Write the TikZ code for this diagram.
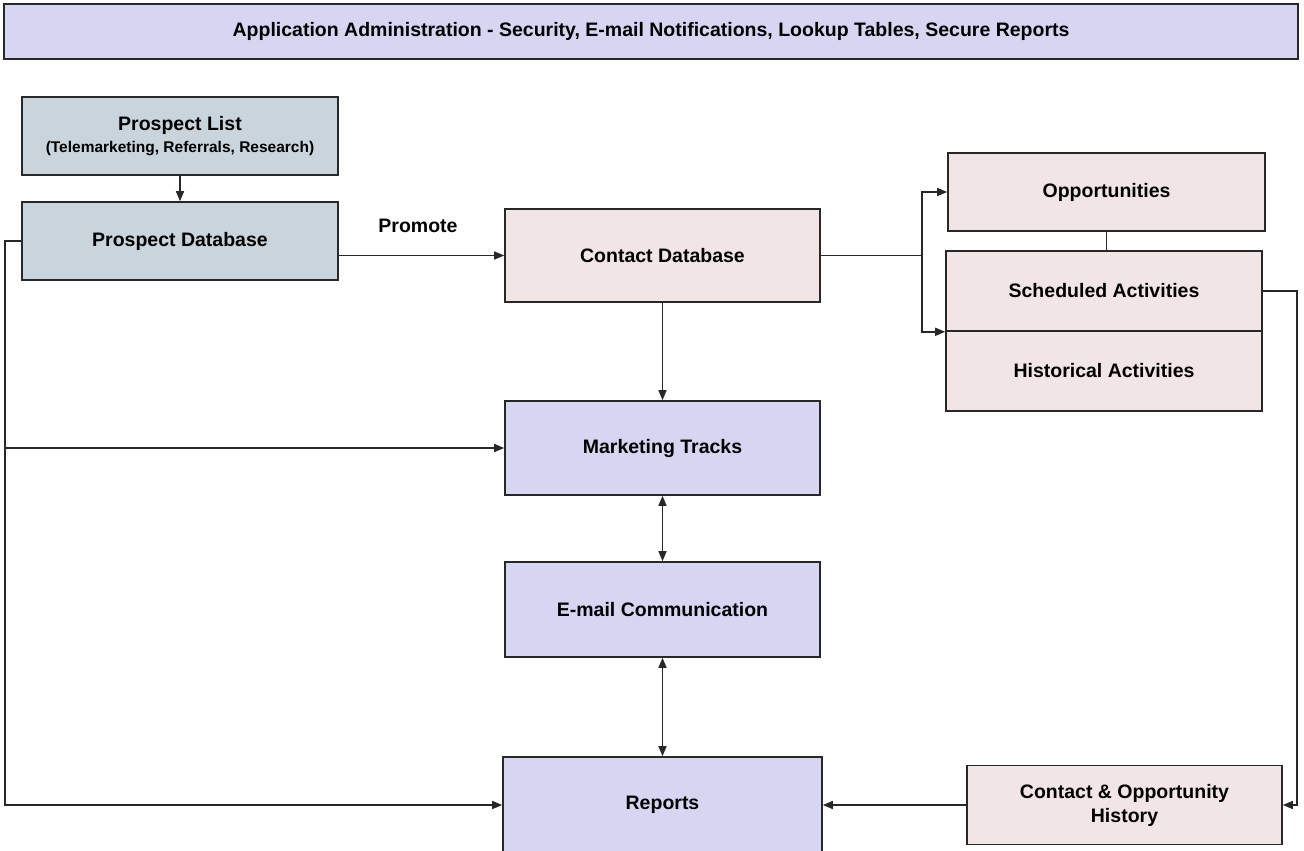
\documentclass[tikz,border=0pt]{standalone}
\usepackage{fontspec}
\setmainfont{Liberation Sans}
\usetikzlibrary{arrows.meta}

\definecolor{adminfill}{RGB}{214,214,242}
\definecolor{prospfill}{RGB}{202,212,220}
\definecolor{contfill}{RGB}{241,229,229}
\definecolor{boxline}{RGB}{40,40,40}

\tikzset{
  box/.style={draw=boxline, line width=1.6pt, inner sep=0pt, align=center,
    minimum width=316pt, minimum height=78pt,
    font=\bfseries\fontsize{19.5}{24}\selectfont},
  link/.style={draw=boxline, line width=1.5pt},
  arr/.style={link, -{Triangle[length=10pt,width=8pt]}},
  darr/.style={link, {Triangle[length=10pt,width=8pt]}-{Triangle[length=10pt,width=8pt]}}
}

\begin{document}
\begin{tikzpicture}[x=1pt,y=-1pt]
  \useasboundingbox[fill=white] (0,0) rectangle (1304,851);

  \node[box, fill=adminfill, minimum width=1294pt, minimum height=55pt,
    font=\bfseries\fontsize{19.5}{22}\selectfont] (admin) at (651,31.5)
    {Application Administration - Security, E-mail Notifications, Lookup Tables, Secure Reports};

  \node[box, fill=prospfill] (prospect-list) at (180,136)
    {Prospect List\\[-2pt]{\fontsize{15.5}{18}\selectfont (Telemarketing, Referrals, Research)}};
  \node[box, fill=prospfill] (prospect-db) at (180,241) {Prospect Database};

  \node[box, fill=contfill, minimum width=315pt, minimum height=93pt] (contact-db) at (662.5,255.5) {Contact Database};

  \node[box, fill=contfill, minimum width=317pt] (opportunities) at (1106.5,192) {Opportunities};
  \node[box, fill=contfill, minimum height=80pt] (scheduled) at (1104,291) {Scheduled Activities};
  \node[box, fill=contfill, minimum height=80pt] (historical) at (1104,371) {Historical Activities};

  \node[box, fill=adminfill, minimum width=315pt, minimum height=94pt] (marketing) at (662.5,448) {Marketing Tracks};
  \node[box, fill=adminfill, minimum width=315pt, minimum height=95pt] (email) at (662.5,609.5) {E-mail Communication};
  \node[box, fill=adminfill, minimum width=319pt, minimum height=96pt] (reports) at (662.5,805) {Reports};

  \node[box, fill=contfill, minimum width=315pt, minimum height=79pt] (history) at (1124.5,805)
    {Contact \& Opportunity\\History};

  \node[font=\bfseries\fontsize{19.5}{22}\selectfont] (promote) at (418,226) {Promote};

  \coordinate (left-rail) at (5,241);
  \coordinate (cdb-fork) at (922,255.5);
  \coordinate (right-rail) at (1297,291);

  \draw[arr] (prospect-list.south) -- (prospect-db.north);
  \draw[arr] (prospect-db.east |- contact-db.west) -- (contact-db.west);

  \draw[arr] (prospect-db.west) -- (left-rail) |- (reports.west);
  \draw[arr] (left-rail |- marketing.west) -- (marketing.west);

  \draw[link] (contact-db.east) -- (cdb-fork);
  \draw[arr] (cdb-fork) |- (opportunities.west);
  \draw[arr] (cdb-fork) |- (scheduled.south west);
  \draw[link] (opportunities.south) -- (opportunities.south |- scheduled.north);

  \draw[arr] (contact-db.south) -- (marketing.north);
  \draw[darr] (marketing.south) -- (email.north);
  \draw[darr] (email.south) -- (reports.north);

  \draw[arr] (history.west) -- (reports.east);
  \draw[arr] (scheduled.east) -- (right-rail) |- (history.east);
\end{tikzpicture}
\end{document}
